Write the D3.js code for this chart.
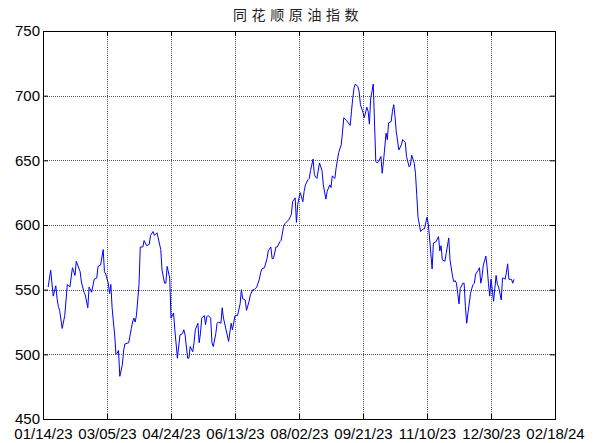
<!DOCTYPE html>
<html>
<head>
<meta charset="utf-8">
<script src="https://cdn.jsdelivr.net/npm/d3@7"></script>
<style>
  body { margin: 0; background: #fff; }
  svg { display: block; }
</style>
</head>
<body>
<div id="container"></div>
<script>
/* DATA */
const title = "同花顺原油指数"

const dates = [
  "2023-01-18","2023-01-20","2023-01-22","2023-01-24","2023-01-25","2023-01-26","2023-01-27","2023-01-29","2023-01-31",
  "2023-02-02","2023-02-04","2023-02-06","2023-02-08","2023-02-09","2023-02-12","2023-02-13","2023-02-15","2023-02-16",
  "2023-02-18","2023-02-19","2023-02-21","2023-02-23","2023-02-25","2023-02-26","2023-02-28",
  "2023-03-02","2023-03-03","2023-03-04","2023-03-06","2023-03-07","2023-03-08","2023-03-09","2023-03-10","2023-03-11",
  "2023-03-12","2023-03-13","2023-03-14","2023-03-15","2023-03-17","2023-03-18","2023-03-19","2023-03-22","2023-03-24",
  "2023-03-25","2023-03-26","2023-03-27","2023-03-28","2023-03-30","2023-03-31",
  "2023-04-02","2023-04-03","2023-04-05","2023-04-07","2023-04-08","2023-04-10","2023-04-11","2023-04-13","2023-04-14",
  "2023-04-16","2023-04-17","2023-04-19","2023-04-20","2023-04-21","2023-04-23","2023-04-24","2023-04-26","2023-04-27",
  "2023-04-29",
  "2023-05-01","2023-05-03","2023-05-04","2023-05-05","2023-05-07","2023-05-08","2023-05-09","2023-05-11","2023-05-12",
  "2023-05-13","2023-05-15","2023-05-16","2023-05-17","2023-05-18","2023-05-20","2023-05-21","2023-05-22","2023-05-23",
  "2023-05-25","2023-05-26","2023-05-27","2023-05-29","2023-05-30","2023-05-31",
  "2023-06-02","2023-06-03","2023-06-04","2023-06-06","2023-06-08","2023-06-10","2023-06-11","2023-06-13","2023-06-15",
  "2023-06-17","2023-06-18","2023-06-19","2023-06-21","2023-06-22","2023-06-24","2023-06-25","2023-06-27","2023-06-28",
  "2023-06-30",
  "2023-07-02","2023-07-03","2023-07-04","2023-07-06","2023-07-08","2023-07-09","2023-07-11","2023-07-12","2023-07-13",
  "2023-07-15","2023-07-16","2023-07-18","2023-07-19","2023-07-21","2023-07-22","2023-07-23","2023-07-25","2023-07-26",
  "2023-07-27","2023-07-28","2023-07-30","2023-07-31",
  "2023-08-01","2023-08-02","2023-08-03","2023-08-05","2023-08-06","2023-08-07","2023-08-09","2023-08-10","2023-08-11",
  "2023-08-13","2023-08-14","2023-08-15","2023-08-16","2023-08-18","2023-08-20","2023-08-21","2023-08-23","2023-08-24",
  "2023-08-26","2023-08-27","2023-08-28","2023-08-30","2023-08-31",
  "2023-09-02","2023-09-04","2023-09-05","2023-09-06","2023-09-08","2023-09-11","2023-09-12","2023-09-13","2023-09-14",
  "2023-09-15","2023-09-17","2023-09-18","2023-09-19","2023-09-21","2023-09-22","2023-09-24","2023-09-25","2023-09-26",
  "2023-09-27","2023-09-28","2023-09-29",
  "2023-10-01","2023-10-02","2023-10-03","2023-10-05","2023-10-06","2023-10-07","2023-10-09","2023-10-10","2023-10-11",
  "2023-10-13","2023-10-14","2023-10-15","2023-10-16","2023-10-17","2023-10-18","2023-10-19","2023-10-21","2023-10-22",
  "2023-10-24","2023-10-25","2023-10-27","2023-10-28","2023-10-29","2023-10-31",
  "2023-11-01","2023-11-02","2023-11-03","2023-11-05","2023-11-07","2023-11-08","2023-11-10","2023-11-11","2023-11-12",
  "2023-11-13","2023-11-14","2023-11-15","2023-11-17","2023-11-19","2023-11-20","2023-11-21","2023-11-22","2023-11-24",
  "2023-11-25","2023-11-27","2023-11-28","2023-11-30",
  "2023-12-01","2023-12-02","2023-12-03","2023-12-04","2023-12-05","2023-12-06","2023-12-08","2023-12-09","2023-12-10",
  "2023-12-11","2023-12-12","2023-12-14","2023-12-15","2023-12-16","2023-12-17","2023-12-18","2023-12-20","2023-12-21",
  "2023-12-22","2023-12-23","2023-12-24","2023-12-26","2023-12-27","2023-12-28","2023-12-29","2023-12-30","2023-12-31",
  "2024-01-01","2024-01-02","2024-01-03","2024-01-04","2024-01-05","2024-01-07","2024-01-08","2024-01-09","2024-01-10",
  "2024-01-11","2024-01-12","2024-01-13","2024-01-14","2024-01-15","2024-01-16","2024-01-17"
]

const values = [
  552,565,545,553,543,537,534,520,530,
  554,552,567,561,572,564,556,548,546,
  536,552,548,558,559,568,569,
  581,564,562,555,547,554,536,525,515,
  500,501,503,483,492,503,508,509,520,
  525,528,525,530,554,583,
  583,588,584,585,592,595,592,594,590,
  581,565,555,555,568,559,528,532,519,
  497,
  515,516,519,515,497,497,506,502,509,
  519,524,509,516,528,530,523,529,530,
  528,509,506,516,524,525,
  524,536,528,519,510,524,519,530,530,
  539,550,543,542,534,541,546,550,550,
  552,
  558,563,566,567,574,580,583,574,574,
  583,583,587,588,599,601,602,604,606,
  608,618,621,602,
  616,621,625,618,626,631,635,636,642,
  651,639,637,636,648,642,631,620,626,
  631,629,638,636,644,
  656,662,672,683,681,677,688,698,706,
  709,707,703,693,687,683,691,688,678,
  698,703,709,
  649,648,649,653,640,649,671,666,679,
  680,688,693,684,672,665,658,662,666,
  664,653,645,646,654,648,
  640,623,606,595,597,597,606,601,590,
  578,566,586,587,591,580,584,573,572,
  578,590,573,560,
  556,557,555,547,539,551,555,555,537,
  524,532,547,551,554,555,562,565,567,
  555,560,569,576,567,555,545,558,550,
  541,551,561,554,552,542,559,559,558,
  563,570,558,558,558,555,558
]

const xTickLabels = ["01/14/23","03/05/23","04/24/23","06/13/23","08/02/23","09/21/23","11/10/23","12/30/23","02/18/24"]
const yTicks = [450, 500, 550, 600, 650, 700, 750]

/* CONSTANTS */
const width = 596,
  height = 443,
  margin = { top: 31, right: 41, bottom: 24, left: 43 }
const tickFmt = d3.utcFormat("%m/%d/%y")
const parseTick = d3.utcParse("%m/%d/%y")
const parseDate = d3.utcParse("%Y-%m-%d")

const data = dates.map((d, i) => ({ date: parseDate(d), value: values[i] }))
const xTicks = xTickLabels.map(parseTick)

/* SCALES */
const xScale = d3.scaleUtc()
  .domain([xTicks[0], xTicks[xTicks.length - 1]])
  .range([margin.left, width - margin.right])

const yScale = d3.scaleLinear()
  .domain([450, 750])
  .range([height - margin.bottom, margin.top])

const svg = d3.select("#container")
  .append("svg")
  .attr("width", width)
  .attr("height", height)

const x0 = margin.left, x1 = width - margin.right
const y0 = margin.top, y1 = height - margin.bottom

// dotted grid
svg.append("g")
  .selectAll("line")
  .data(xTicks)
  .join("line")
  .attr("x1", d => Math.round(xScale(d)) + 0.5)
  .attr("x2", d => Math.round(xScale(d)) + 0.5)
  .attr("y1", y0)
  .attr("y2", y1)
  .attr("stroke", "#555")
  .attr("stroke-dasharray", "1,1")

svg.append("g")
  .selectAll("line")
  .data(yTicks)
  .join("line")
  .attr("x1", x0)
  .attr("x2", x1)
  .attr("y1", d => Math.round(yScale(d)) + 0.5)
  .attr("y2", d => Math.round(yScale(d)) + 0.5)
  .attr("stroke", "#555")
  .attr("stroke-dasharray", "1,1")

// line
const line = d3.line()
  .x(d => xScale(d.date))
  .y(d => yScale(d.value))

svg.append("path")
  .datum(data)
  .attr("d", line)
  .attr("fill", "none")
  .attr("stroke", "#0000ff")
  .attr("stroke-width", 1)

// axes, ticks pointing inward like matlab
const font = "'Liberation Sans', Arial, sans-serif"

const xAxis = svg.append("g")
  .attr("transform", `translate(0,${y1})`)
  .call(d3.axisBottom(xScale).tickValues(xTicks).tickFormat(tickFmt).tickSize(-5).tickPadding(9))
xAxis.select(".domain").remove()
xAxis.selectAll("text").attr("font-size", 15).attr("font-family", font).attr("fill", "#000")

const xTop = svg.append("g")
  .attr("transform", `translate(0,${y0})`)
  .call(d3.axisTop(xScale).tickValues(xTicks).tickFormat("").tickSize(-5))
xTop.select(".domain").remove()

const yAxis = svg.append("g")
  .attr("transform", `translate(${x0},0)`)
  .call(d3.axisLeft(yScale).tickValues(yTicks).tickSize(-5).tickPadding(3))
yAxis.select(".domain").remove()
yAxis.selectAll("text").attr("font-size", 15).attr("font-family", font).attr("fill", "#000")

const yRight = svg.append("g")
  .attr("transform", `translate(${x1},0)`)
  .call(d3.axisRight(yScale).tickValues(yTicks).tickFormat("").tickSize(-5))
yRight.select(".domain").remove()

// box
svg.append("rect")
  .attr("x", x0 + 0.5)
  .attr("y", y0 + 0.5)
  .attr("width", x1 - x0)
  .attr("height", y1 - y0)
  .attr("fill", "none")
  .attr("stroke", "#000")

// title
svg.append("text")
  .attr("x", 233)
  .attr("y", 20)
  .attr("font-family", "'Noto Sans CJK SC', sans-serif")
  .attr("font-size", 14)
  .attr("letter-spacing", "4.6px")
  .attr("fill", "#222")
  .text(title)
</script>
</body>
</html>
